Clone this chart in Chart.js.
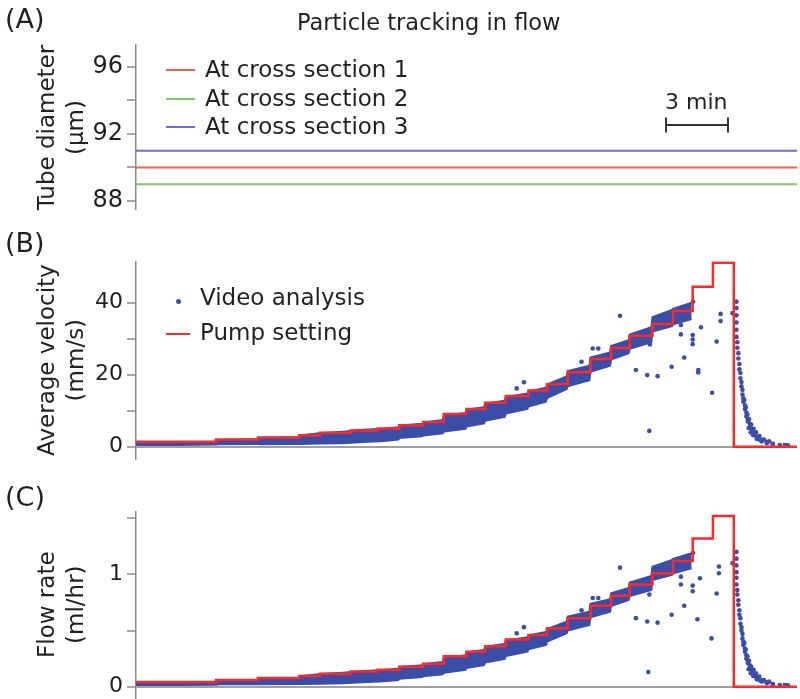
<!DOCTYPE html>
<html>
<head>
<meta charset="utf-8">
<script src="https://cdn.jsdelivr.net/npm/chart.js@4.4.0/dist/chart.umd.min.js"></script>
<style>
html,body{margin:0;padding:0;background:#fff;}
body{width:800px;height:699px;position:relative;overflow:hidden;font-family:"DejaVu Sans",sans-serif;color:#231f20;}
canvas{position:absolute;left:0;}
.t{position:absolute;white-space:nowrap;font-size:23px;line-height:23px;z-index:2;}
.sw{position:absolute;z-index:2;}
</style>
</head>
<body>
<canvas id="ca" width="800" height="230" style="top:0px"></canvas>
<canvas id="cb" width="800" height="250" style="top:230px"></canvas>
<canvas id="cc" width="800" height="250" style="top:470px"></canvas>

<div class="t" style="left:5px;top:5px;font-size:27px;line-height:27px;">(A)</div>
<div class="t" style="left:297px;top:11px;font-size:22.5px;">Particle tracking in flow</div>
<div class="sw" style="left:166px;top:69px;width:29px;height:0;border-top:2px solid rgb(240,95,80);"></div>
<div class="sw" style="left:166px;top:98px;width:29px;height:0;border-top:2px solid rgb(125,200,95);"></div>
<div class="sw" style="left:166px;top:126px;width:29px;height:0;border-top:2px solid rgb(110,110,200);"></div>
<div class="t" id="la1" style="left:205px;top:58px;"></div>
<div class="t" id="la2" style="left:205px;top:87px;"></div>
<div class="t" id="la3" style="left:205px;top:115px;"></div>
<div class="t" style="left:665px;top:91px;font-size:22px;line-height:22px;">3 min</div>

<div class="t" style="left:5px;top:229px;font-size:27px;line-height:27px;">(B)</div>
<div class="sw" style="left:175.5px;top:298.5px;width:5px;height:5px;border-radius:50%;background:rgb(58,78,168);"></div>
<div class="t" style="left:200px;top:286px;">Video analysis</div>
<div class="sw" style="left:166px;top:333px;width:24px;height:0;border-top:2.5px solid rgb(255,40,40);"></div>
<div class="t" style="left:200px;top:321px;">Pump setting</div>

<div class="t" style="left:5px;top:483px;font-size:27px;line-height:27px;">(C)</div>

<script>
// ---------------- data ----------------
const timeMin = 0, timeMax = 32;            // minutes
const scaleBarStart = 25.66, scaleBarMinutes = 3;

const sectionLabels = ['At cross section 1', 'At cross section 2', 'At cross section 3'];
const sectionDiameters = [90, 89, 91];       // µm

const diameterTicks = [88, 90, 92, 94, 96];
const diameterTickLabels = ['88', '', '92', '', '96'];
const velocityTicks = [0, 10, 20, 30, 40];
const velocityTickLabels = ['0', '', '20', '', '40'];
const flowTicks = [0, 0.5, 1, 1.5];
const flowTickLabels = ['0', '', '1', ''];

// pump setting (step starts)
const pumpTimes    = [0, 3.87, 5.9, 7.9, 8.9, 10.4, 11.7, 12.75, 13.9, 14.9, 16.0, 16.9, 17.9, 19.0, 19.9, 20.9, 22.0, 23.0, 23.9, 25.0, 26.0, 26.95, 27.93, 28.94, 32];
const pumpVelocity = [1.4, 2.0, 2.6, 3.2, 3.9, 4.5, 5.1, 6.0, 6.9, 9.1, 10.5, 12.2, 14.1, 15.6, 17.4, 20.7, 24.4, 27.4, 30.8, 34.1, 37.7, 44.4, 51.1, 0, 0];
const pumpFlow     = [0.042, 0.059, 0.077, 0.095, 0.116, 0.134, 0.151, 0.178, 0.205, 0.27, 0.31, 0.36, 0.42, 0.46, 0.52, 0.61, 0.72, 0.81, 0.91, 1.01, 1.12, 1.32, 1.52, 0, 0];

// dense video-analysis band (lower / upper envelope, read at each pump step)
const bandTimes = [0, 2, 3.9, 4.0, 5.9, 6.0, 7.9, 8.0, 9.0, 10.0, 11.0, 12.0,
  12.7, 12.75, 13.85, 13.9, 14.85, 14.9, 15.95, 16.0, 16.85, 16.9, 17.85, 17.9, 18.95, 19.0, 19.85,
  19.9, 20.85, 20.9, 21.95, 22.0, 22.95, 23.0, 23.85, 23.9, 24.95, 25.0, 25.95, 26.0, 26.9];
const bandVelocityLow = [0.5, 0.5, 0.6, 0.7, 0.8, 0.7, 0.8, 0.8, 0.9, 1.0, 1.3, 1.6,
  2.0, 2.4, 2.9, 3.1, 3.7, 4.2, 5.0, 5.6, 6.5, 7.2, 8.3, 9.2, 10.5, 11.2, 12.5,
  13.5, 16.0, 16.8, 18.5, 20.8, 22.5, 24.2, 26.0, 27.2, 29.0, 32.0, 33.5, 34.0, 35.5];
const bandVelocityHigh = [1.2, 1.2, 1.4, 1.9, 2.1, 2.4, 2.7, 3.2, 3.8, 4.2, 4.7, 5.0,
  5.4, 5.9, 6.4, 6.7, 7.4, 8.7, 9.4, 10.3, 11.0, 12.0, 12.8, 13.8, 14.8, 15.4, 16.4,
  17.3, 19.5, 21.0, 22.5, 24.8, 26.2, 28.0, 29.6, 31.2, 33.2, 36.0, 38.0, 38.3, 40.0];
const bandFlowLow = [0.015, 0.015, 0.018, 0.021, 0.024, 0.021, 0.024, 0.024, 0.027, 0.030, 0.039, 0.048,
  0.059, 0.071, 0.086, 0.092, 0.110, 0.125, 0.149, 0.166, 0.193, 0.214, 0.247, 0.273, 0.312, 0.333, 0.371,
  0.401, 0.475, 0.499, 0.549, 0.618, 0.668, 0.719, 0.772, 0.808, 0.861, 0.950, 0.995, 1.010, 1.054];
const bandFlowHigh = [0.036, 0.036, 0.042, 0.056, 0.062, 0.071, 0.080, 0.095, 0.113, 0.125, 0.140, 0.149,
  0.160, 0.175, 0.190, 0.199, 0.220, 0.258, 0.279, 0.306, 0.327, 0.356, 0.380, 0.410, 0.440, 0.457, 0.487,
  0.514, 0.579, 0.624, 0.668, 0.737, 0.778, 0.832, 0.879, 0.927, 0.986, 1.069, 1.129, 1.138, 1.188];

// scattered video-analysis points
const outlierTimesB   = [23.43, 22.11, 22.38, 18.78, 18.43, 21.57, 24.20, 24.75, 25.25, 24.85, 24.88, 25.93, 26.54, 26.38, 26.38, 26.95, 26.95, 26.95, 27.22, 27.22, 27.35, 28.11, 28.30, 28.30, 27.89, 26.97];
const outlierVelocity = [36.4, 27.3, 27.3, 17.9, 16.2, 23.6, 21.3, 19.9, 19.6, 4.4, 28.4, 22.2, 24.8, 33.8, 31.2, 31.0, 29.8, 28.5, 21.3, 20.6, 33.2, 29.2, 36.9, 34.9, 15.0, 40.3];
const outlierTimesC   = [23.43, 22.11, 22.38, 18.78, 18.43, 21.57, 24.20, 24.75, 25.25, 24.80, 24.85, 25.93, 26.54, 26.38, 26.38, 26.95, 26.95, 27.18, 27.30, 27.86, 28.22, 28.22, 28.11, 26.97];
const outlierFlow     = [1.06, 0.79, 0.79, 0.53, 0.475, 0.68, 0.61, 0.58, 0.57, 0.13, 0.82, 0.64, 0.72, 0.98, 0.91, 0.90, 0.85, 0.60, 0.965, 0.43, 1.07, 1.01, 0.83, 1.19];

// decay after the pump stops
const decayTimes    = [28.88, 29.07, 29.07, 29.07, 29.07, 29.07, 29.07, 29.11, 29.11, 29.16, 29.16, 29.21, 29.21, 29.26, 29.26, 29.31, 29.31, 29.36, 29.36, 29.40, 29.40, 29.48, 29.48, 29.55, 29.55, 29.62, 29.62, 29.72, 29.72, 29.82, 29.82, 29.96, 29.96, 30.11, 30.11, 30.30, 30.30, 30.54, 30.54, 30.83, 30.83, 31.17, 31.41, 31.56,
                       29.45, 29.52, 29.60, 29.68, 29.78, 29.90, 30.02, 30.18, 30.40, 30.65, 29.66, 29.76, 29.88, 30.05, 30.22];
const decayVelocity = [37.1, 40.3, 38.5, 36.5, 34.5, 32.5, 30.5, 29.0, 27.5, 26.0, 24.5, 23.0, 21.5, 20.5, 19.0, 18.0, 16.8, 15.8, 14.5, 13.5, 12.5, 11.5, 10.5, 9.5, 8.5, 7.8, 7.0, 6.3, 5.6, 5.0, 4.4, 3.8, 3.2, 2.8, 2.3, 1.9, 1.5, 1.3, 1.0, 0.8, 0.6, 0.5, 0.5, 0.4,
                       13.0, 11.0, 9.0, 7.6, 6.2, 5.0, 4.0, 3.0, 2.0, 1.5, 5.2, 4.0, 3.2, 2.2, 1.8];
const decayFlow     = [1.10, 1.20, 1.14, 1.08, 1.02, 0.97, 0.91, 0.86, 0.82, 0.77, 0.73, 0.68, 0.64, 0.61, 0.56, 0.53, 0.50, 0.47, 0.43, 0.40, 0.37, 0.34, 0.31, 0.28, 0.25, 0.23, 0.21, 0.19, 0.17, 0.15, 0.13, 0.11, 0.095, 0.083, 0.068, 0.056, 0.045, 0.039, 0.030, 0.024, 0.018, 0.015, 0.015, 0.012,
                       0.39, 0.33, 0.27, 0.23, 0.18, 0.15, 0.12, 0.09, 0.06, 0.045, 0.155, 0.12, 0.095, 0.065, 0.053];

// ---------------- styles ----------------
const FONT = '"DejaVu Sans", sans-serif';
const TEXT = '#231f20';
const AXIS = '#8a8a8a';
const BASE = '#a0a0a0';
const DOT = 'rgb(58,78,168)';
const PUMP = 'rgb(255,40,40)';
const sectionColors = ['rgb(240,95,80)', 'rgb(125,200,95)', 'rgb(110,110,200)'];

sectionLabels.forEach((s, i) => { document.getElementById('la' + (i + 1)).textContent = s; });

const pts = (xs, ys) => xs.map((x, i) => ({x: x, y: ys[i]}));

function yScale(min, max, ticks, labels, title, zeroLine, tickSize) {
  return {
    type: 'linear', position: 'left', min: min, max: max,
    afterFit(s) { s.width = 136; },
    afterBuildTicks(s) { s.ticks = ticks.map(v => ({value: v})); },
    ticks: {
      autoSkip: false, maxRotation: 0, padding: 4, color: TEXT,
      font: {family: FONT, size: tickSize},
      callback: (v) => { const i = ticks.indexOf(v); return i >= 0 ? labels[i] : ''; }
    },
    grid: {
      drawOnChartArea: true, drawTicks: true, tickLength: 9, tickColor: AXIS, tickWidth: 1.5,
      color: (c) => (zeroLine && c.tick && c.tick.value === 0) ? BASE : 'rgba(0,0,0,0)',
      lineWidth: (c) => (zeroLine && c.tick && c.tick.value === 0) ? 2 : 0
    },
    border: {display: true, color: AXIS, width: 1.5},
    title: {
      display: true, text: title, color: TEXT,
      font: {family: FONT, size: 23, lineHeight: 1.26},
      padding: {top: 33.5, bottom: 0}
    }
  };
}

function baseOptions(pad, y) {
  return {
    responsive: false, animation: false, devicePixelRatio: 1, events: [],
    layout: {autoPadding: false, padding: pad},
    plugins: {legend: {display: false}, tooltip: {enabled: false}, title: {display: false}},
    scales: {
      x: {type: 'linear', min: timeMin, max: timeMax, display: false},
      y: y
    }
  };
}

// ---------------- panel A ----------------
const scaleBarPlugin = {
  id: 'scaleBar',
  afterDatasetsDraw(chart) {
    const xs = chart.scales.x, ys = chart.scales.y, ctx = chart.ctx;
    const x0 = xs.getPixelForValue(scaleBarStart);
    const x1 = xs.getPixelForValue(scaleBarStart + scaleBarMinutes);
    const y = ys.getPixelForValue(92.54);
    ctx.save();
    ctx.strokeStyle = '#333';
    ctx.lineWidth = 2;
    ctx.beginPath();
    ctx.moveTo(x0, y); ctx.lineTo(x1, y);
    ctx.moveTo(x0, y - 7.5); ctx.lineTo(x0, y + 7.5);
    ctx.moveTo(x1, y - 7.5); ctx.lineTo(x1, y + 7.5);
    ctx.stroke();
    ctx.restore();
  }
};

new Chart(document.getElementById('ca'), {
  type: 'line',
  data: {
    datasets: sectionDiameters.map((d, i) => ({
      label: sectionLabels[i],
      data: pts([timeMin, timeMax], [d, d]),
      borderColor: sectionColors[i], borderWidth: 2, pointRadius: 0, fill: false
    }))
  },
  options: baseOptions({left: 0, right: 3, top: 45, bottom: 20},
    yScale(87.46, 97.31, diameterTicks, diameterTickLabels, ['Tube diameter', '(µm)'], false, 24)),
  plugins: [scaleBarPlugin]
});

// ---------------- panels B & C ----------------
function flowChart(id, pad, y, bandLow, bandHigh, outT, outV, decV, pumpV) {
  new Chart(document.getElementById(id), {
    type: 'line',
    data: {
      datasets: [
        {label: 'band low', data: pts(bandTimes, bandLow), borderColor: DOT, borderWidth: 2, pointRadius: 0, fill: false, order: 3},
        {label: 'Video analysis', data: pts(bandTimes, bandHigh), borderColor: DOT, borderWidth: 2, pointRadius: 0, fill: '-1', backgroundColor: DOT, order: 3},
        {label: 'Video analysis points', data: pts(outT, outV).concat(pts(decayTimes, decV)), showLine: false, pointRadius: 2.3, pointBorderWidth: 0, pointBackgroundColor: DOT, borderColor: DOT, order: 2},
        {label: 'Pump setting', data: pts(pumpTimes, pumpV), stepped: true, borderColor: PUMP, borderWidth: 2.5, pointRadius: 0, fill: false, order: 1}
      ]
    },
    options: baseOptions(pad, y)
  });
}

flowChart('cb', {left: 0, right: 3, top: 31.3, bottom: 21},
  yScale(-3.4, 51.5, velocityTicks, velocityTickLabels, ['Average velocity', '(mm/s)'], true, 22),
  bandVelocityLow, bandVelocityHigh, outlierTimesB, outlierVelocity, decayVelocity, pumpVelocity);

flowChart('cc', {left: 0, right: 3, top: 41.5, bottom: 22.1},
  yScale(-0.1, 1.56, flowTicks, flowTickLabels, ['Flow rate', '(ml/hr)'], true, 22),
  bandFlowLow, bandFlowHigh, outlierTimesC, outlierFlow, decayFlow, pumpFlow);
</script>
</body>
</html>
